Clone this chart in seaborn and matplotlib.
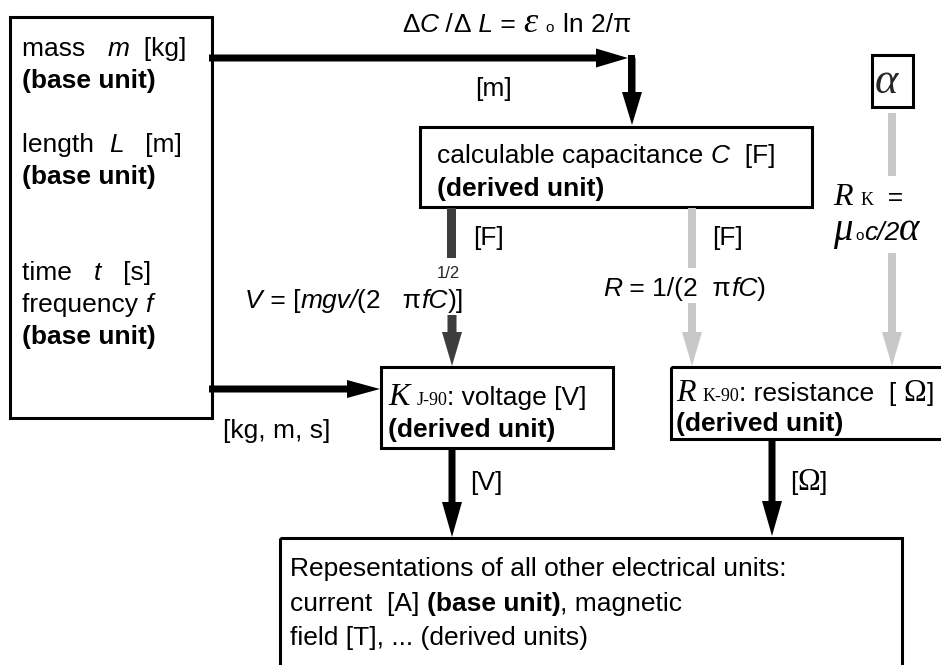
import matplotlib
matplotlib.use("Agg")
import matplotlib.pyplot as plt
from matplotlib.patches import Rectangle
import seaborn as sns

sns.set_theme(style="white")
plt.rcParams['font.family'] = ['Liberation Sans', 'DejaVu Sans']

SANS = 'Liberation Sans'
SERIF = 'Liberation Serif'
FS = 19

# text runs: (text, style code); a number instead of text is a gap in pixels
left_lines = [
    [("mass   ", "n"), ("m", "i"), ("  [kg]", "n")],
    [("(base unit)", "b")],
    [("length  ", "n"), ("L", "i"), ("   [m]", "n")],
    [("(base unit)", "b")],
    [("time   ", "n"), ("t", "i"), ("   [s]", "n")],
    [("frequency ", "n"), ("f", "i")],
    [("(base unit)", "b")],
]
top_formula = [("Δ", "n"), ("C", "i"), (" /", "n"), ("Δ", "n"), (" L", "i"), (" = ", "n"),
               ("ε", "E"), (8, None), ("o", "o"), (10, None), ("ln 2/π", "n")]
cap_lines = [
    [("calculable capacitance ", "n"), ("C", "i"), ("  [F]", "n")],
    [("(derived unit)", "b")],
]
v_formula = [("V", "i"), (" = [", "n"), ("mgv/", "i"), ("(2   π", "n"), ("fC", "i"), (")]", "n")]
r_formula = [("R", "i"), (" = 1/(2  π", "n"), ("fC", "i"), (")", "n")]
rk_line1 = [("R", "I"), (8, None), ("K", "s"), ("  =", "n")]
rk_line2 = [("μ", "M"), (3, None), ("o", "o"), ("c/2", "i"), ("α", "M")]
k_lines = [
    [("K", "I"), (7, None), ("J-90", "s"), (": voltage [V]", "n")],
    [("(derived unit)", "b")],
]
r_lines = [
    [("R", "I"), (7, None), ("K-90", "s"), (": resistance  [ ", "n"), ("Ω", "G"), ("]", "n")],
    [("(derived unit)", "b")],
]
bottom_lines = [
    [("Repesentations of all other electrical units:", "n")],
    [("current  [A] ", "n"), ("(base unit)", "b"), (", magnetic", "n")],
    [("field [T], ... (derived units)", "n")],
]

styles = {
    'n': dict(family=SANS, size=FS),
    'i': dict(family=SANS, style='italic', size=FS),
    'b': dict(family=SANS, weight='bold', size=FS),
    'I': dict(family=SERIF, style='italic', size=23),
    'E': dict(family=SERIF, style='italic', size=26),
    'M': dict(family=SERIF, style='italic', size=28),
    'A': dict(family=SERIF, style='italic', size=32),
    's': dict(family=SERIF, size=13),
    'o': dict(family=SANS, size=11),
    'G': dict(family=SERIF, size=22),
    'h': dict(family=SANS, size=12),
}

fig = plt.figure(figsize=(9.41, 6.65), dpi=100)
ax = fig.add_axes([0, 0, 1, 1])
ax.set_xlim(0, 941)
ax.set_ylim(665, 0)
ax.axis('off')
renderer = fig.canvas.get_renderer()


def run(x, y, parts):
    for txt, code in parts:
        if code is None:
            x += txt
            continue
        t = ax.text(x, y, txt, va='baseline', ha='left', color='black', **styles[code])
        x += t.get_window_extent(renderer).width


def box(x0, y0, x1, y1):
    ax.add_patch(Rectangle((x0, y0), x1 - x0, y1 - y0, fill=False, lw=2.2, ec='black'))


def arrow(x0, y0, x1, y1, color='black', w=7, hw=20, hl=33):
    ax.arrow(x0, y0, x1 - x0, y1 - y0, width=w, head_width=hw, head_length=hl,
             length_includes_head=True, fc=color, ec=color, lw=0)


def seg(x, y0, y1, color, w):
    ax.add_patch(Rectangle((x - w / 2, y0), w, y1 - y0, fc=color, ec='none'))


# boxes
box(10, 17, 212, 418)
box(420, 127, 812, 207)
box(872, 55, 913, 107)
box(381, 367, 613, 448)
box(671, 367, 948, 439)
box(280, 538, 902, 672)

# black arrows
arrow(209, 58, 628, 58, hw=19, hl=32)
seg(632, 54.5, 95, 'black', 7)
arrow(632, 58, 632, 125)
arrow(209, 389, 380, 389, hw=18, hl=33)
arrow(452, 448, 452, 537, hl=35)
arrow(772, 439, 772, 536, hl=35)

# grey arrows
dark = '#3d3d3d'
light = '#c8c8c8'
seg(452, 208, 258, dark, 9)
arrow(452, 315, 452, 366, color=dark, w=9, hw=20, hl=34)
seg(692, 208, 268, light, 8)
arrow(692, 303, 692, 366, color=light, w=8, hw=20, hl=34)
seg(892, 113, 176, light, 8)
arrow(892, 253, 892, 366, color=light, w=8, hw=20, hl=34)

# texts
for parts, yb in zip(left_lines, [56, 88, 152, 184, 280, 312, 344]):
    run(22, yb, parts)
run(402, 32, top_formula)
run(475, 96, [("[m]", "n")])
for parts, yb in zip(cap_lines, [163, 196]):
    run(437, yb, parts)
run(473, 245, [("[F]", "n")])
ax.text(448, 278, "1/2", ha='center', va='baseline', **styles['h'])
run(245, 308, v_formula)
run(712, 245, [("[F]", "n")])
run(603, 296, r_formula)
run(833, 205, rk_line1)
run(833, 240, rk_line2)
ax.text(875, 93, "α", ha='left', va='baseline', **styles['A'])
for parts, yb in zip(k_lines, [405, 437]):
    run(388, yb, parts)
for parts, yb in zip(r_lines, [401, 431]):
    run(676, yb, parts)
run(223, 438, [("[kg, m, s]", "n")])
run(470, 490, [("[V]", "n")])
run(790, 490, [("[", "n"), ("Ω", "G"), ("]", "n")])
for parts, yb in zip(bottom_lines, [576, 611, 645]):
    run(290, yb, parts)

fig.savefig("out.png", dpi=100)
